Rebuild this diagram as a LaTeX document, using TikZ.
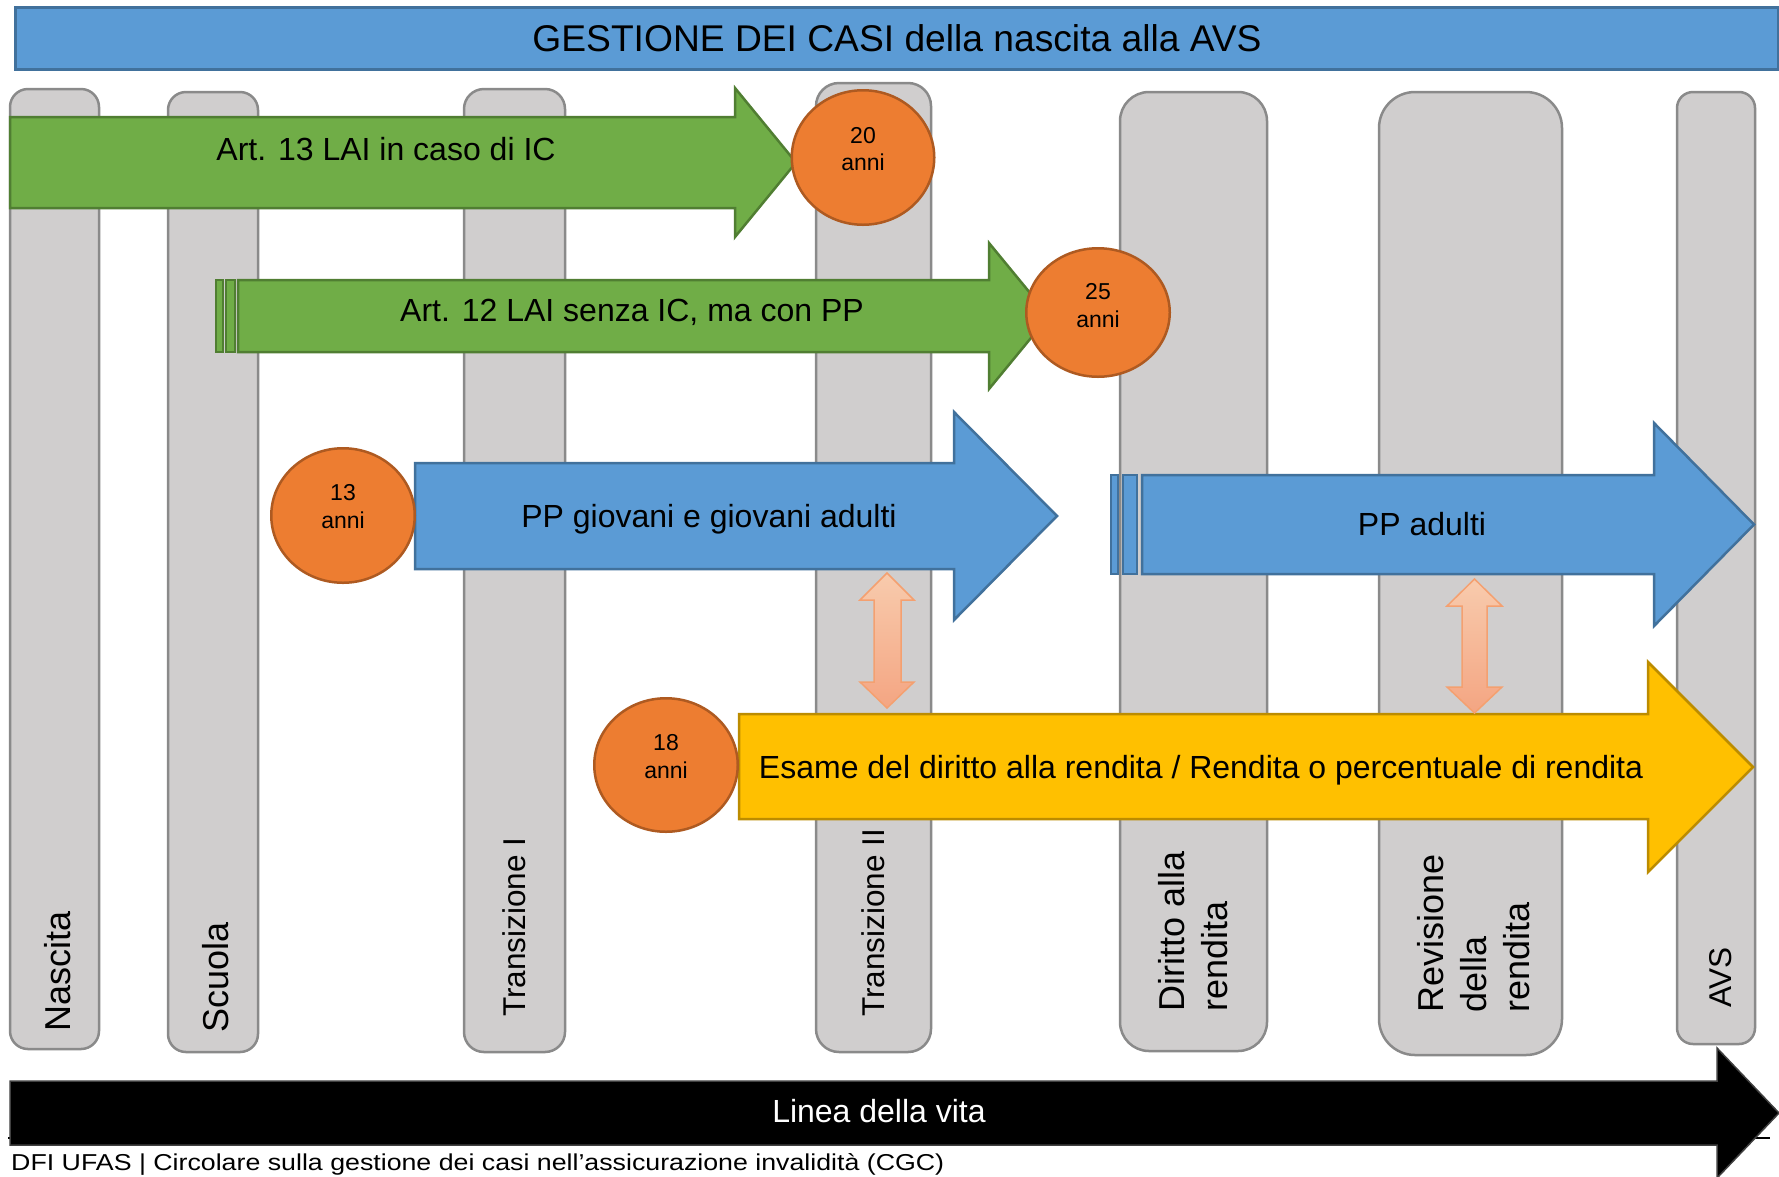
\documentclass[tikz,border=0pt]{standalone}
\usepackage{fontspec}
\setmainfont{Liberation Sans}
\newfontfamily\footfont[FakeStretch=1.163]{Liberation Sans}
\usetikzlibrary{shapes.geometric}
\definecolor{barblue}{HTML}{5B9BD5}
\definecolor{barblueline}{HTML}{41719C}
\definecolor{colgray}{HTML}{D0CECE}
\definecolor{colline}{HTML}{8A8A8A}
\definecolor{artgreen}{HTML}{70AD47}
\definecolor{artgreenline}{HTML}{507E32}
\definecolor{ageorange}{HTML}{ED7D31}
\definecolor{ageorangeline}{HTML}{AE5A21}
\definecolor{rentyellow}{HTML}{FFC000}
\definecolor{rentyellowline}{HTML}{BC8C00}
\definecolor{linktop}{HTML}{F8CBAD}
\definecolor{linkbottom}{HTML}{F4A582}
\definecolor{linkline}{HTML}{F4A070}

\begin{document}
\begin{tikzpicture}[
    x=1pt, y=-1pt,
    titlebar/.style={draw=barblueline,fill=barblue,line width=3pt},
    col/.style={draw=colline,fill=colgray,line width=2.5pt},
    collbl/.style={rotate=90,anchor=west,inner sep=0,align=left,font=\fontsize{36}{43}\selectfont},
    collblsm/.style={collbl,font=\fontsize{31.5}{38}\selectfont},
    greenarr/.style={draw=artgreenline,fill=artgreen,line width=2.5pt},
    bluearr/.style={draw=barblueline,fill=barblue,line width=2.5pt},
    yellowarr/.style={draw=rentyellowline,fill=rentyellow,line width=2.5pt},
    lifearr/.style={draw=black!75,fill=black,line width=1.5pt},
    linkarr/.style={draw=linkline,top color=linktop,bottom color=linkbottom,line width=1.5pt},
    arrlbl/.style={anchor=base,inner sep=0,font=\fontsize{32}{38}\selectfont},
    agecirc/.style={ellipse,draw=ageorangeline,fill=ageorange,line width=2.5pt,inner sep=0},
    agetxt/.style={align=center,inner sep=0,font=\fontsize{23}{27.5}\selectfont}
]
\path[use as bounding box,fill=white] (0,0) rectangle (1779,1176);

% title
\draw[titlebar] (15,7) rectangle (1778,69);
\node[arrlbl,font=\fontsize{37.2}{44}\selectfont] (titolo) at (897,51.7) {GESTIONE DEI CASI della nascita alla AVS};

% life phases
\draw[col,rounded corners=18pt] (10,89) rectangle (99,1049);
\draw[col,rounded corners=18pt] (168,92) rectangle (258,1052);
\draw[col,rounded corners=20pt] (464,89) rectangle (565,1052);
\draw[col,rounded corners=23pt] (816,83) rectangle (931,1052);
\draw[col,rounded corners=29pt] (1120,92) rectangle (1267,1051);
\draw[col,rounded corners=36pt] (1379,92) rectangle (1562,1055);
\draw[col,rounded corners=16pt] (1677,92) rectangle (1755,1044);
\node[collbl] (nascita) at (58,1032) {Nascita};
\node[collbl] (scuola) at (215.5,1033) {Scuola};
\node[collblsm] (trans1) at (514,1017) {Transizione I};
\node[collblsm] (trans2) at (873,1017) {Transizione II};
\node[collbl] (diritto) at (1193,1012) {Diritto alla\\rendita};
\node[collbl] (revisione) at (1474,1013) {Revisione\\della\\rendita};
\node[collblsm] (avs) at (1720.5,1008) {AVS};

% life line
\draw[line width=1.5pt] (8,1138) -- (1770,1138);
\draw[lifearr] (10,1081) -- (1717,1081) -- (1717,1048) -- (1779,1113) -- (1717,1178) -- (1717,1145) -- (10,1145) -- cycle;
\node[arrlbl,text=white] (linea) at (879,1122.7) {Linea della vita};
\node[anchor=base west,inner sep=0,font=\footfont\fontsize{23}{27}\selectfont] (fonte) at (11,1170) {DFI UFAS | Circolare sulla gestione dei casi nell’assicurazione invalidità (CGC)};

% Art. 13 / Art. 12
\draw[greenarr] (10,117) -- (735,117) -- (735,88) -- (796,162.5) -- (735,237) -- (735,208) -- (10,208) -- cycle;
\node[arrlbl] (art13) at (386,160) {Art. 13 LAI in caso di IC};
\draw[greenarr,line width=2pt] (216,280) rectangle (223,352);
\draw[greenarr,line width=2pt] (226,280) rectangle (235,352);
\draw[greenarr] (238,280) -- (989,280) -- (989,243) -- (1049,316) -- (989,389) -- (989,352) -- (238,352) -- cycle;
\node[arrlbl] (art12) at (632,321.7) {Art. 12 LAI senza IC, ma con PP};

% PP
\draw[bluearr] (415,463) -- (954,463) -- (954,412) -- (1057,516) -- (954,620) -- (954,569) -- (415,569) -- cycle;
\node[arrlbl] (ppgiovani) at (709,527.7) {PP giovani e giovani adulti};
\draw[bluearr,line width=2pt] (1111,475) rectangle (1118,574);
\draw[bluearr,line width=2pt] (1123,475) rectangle (1137,574);
\draw[bluearr] (1142,475) -- (1654,475) -- (1654,423) -- (1754,524.5) -- (1654,626) -- (1654,574) -- (1142,574) -- cycle;
\node[arrlbl] (ppadulti) at (1422,535) {PP adulti};

% rendita
\draw[yellowarr] (739,714) -- (1648,714) -- (1648,662) -- (1753,767) -- (1648,872) -- (1648,819) -- (739,819) -- cycle;
\node[arrlbl] (esame) at (1201,778) {Esame del diritto alla rendita / Rendita o percentuale di rendita};

% links between PP and rendita
\path[linkarr] (887,573) -- (914,600) -- (901,600) -- (901,682) -- (914,682) -- (887,708) -- (860,682) -- (874,682) -- (874,600) -- (860,600) -- cycle;
\path[linkarr] (1474.5,579) -- (1502,606) -- (1487,606) -- (1487,687) -- (1502,687) -- (1474.5,713) -- (1447,687) -- (1462,687) -- (1462,606) -- (1447,606) -- cycle;

% ages
\node[agecirc,minimum width=142.5pt,minimum height=134.5pt] (age20) at (863,157.5) {};
\node[agetxt] (age20txt) at (863,149) {20\\anni};
\node[agecirc,minimum width=143.5pt,minimum height=128.5pt] (age25) at (1098,312.5) {};
\node[agetxt] (age25txt) at (1098,305.5) {25\\anni};
\node[agecirc,minimum width=143.5pt,minimum height=134.5pt] (age13) at (343,515.5) {};
\node[agetxt] (age13txt) at (343,506.5) {13\\anni};
\node[agecirc,minimum width=143.5pt,minimum height=133.5pt] (age18) at (666,765) {};
\node[agetxt] (age18txt) at (666,756.5) {18\\anni};
\end{tikzpicture}
\end{document}
